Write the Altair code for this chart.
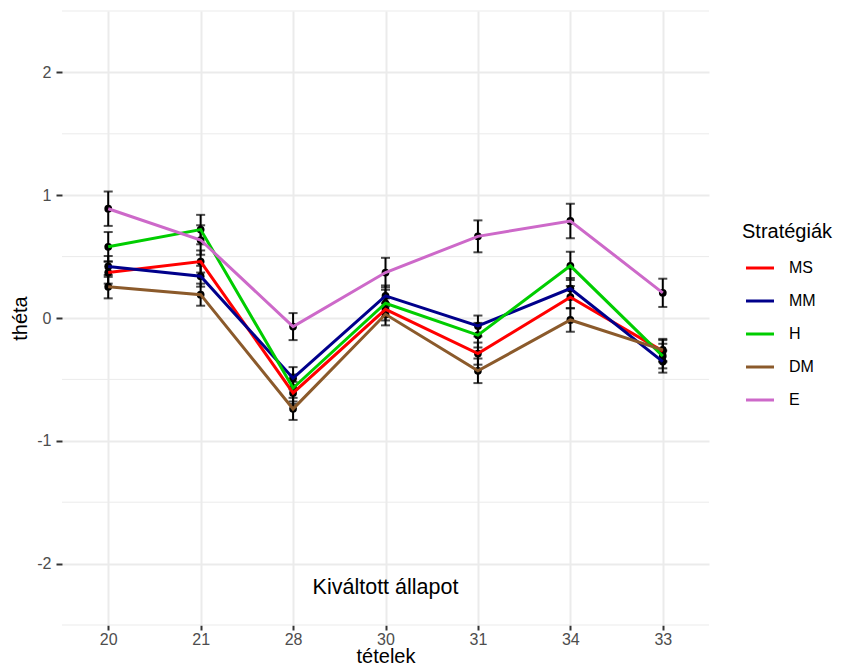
import altair as alt
import pandas as pd

items = ["20", "21", "28", "30", "31", "34", "33"]
strategies = ["MS", "MM", "H", "DM", "E"]
colors = ["#FF0000", "#00008B", "#00CD00", "#8B5A2B", "#CD69C9"]

theta_MS = [0.37, 0.46, -0.61, 0.07, -0.29, 0.17, -0.27]
theta_MM = [0.42, 0.34, -0.49, 0.18, -0.065, 0.24, -0.355]
theta_H = [0.58, 0.72, -0.57, 0.12, -0.14, 0.425, -0.31]
theta_DM = [0.255, 0.19, -0.74, 0.03, -0.43, -0.016, -0.26]
theta_E = [0.89, 0.635, -0.07, 0.37, 0.665, 0.79, 0.205]

se_MS = [0.09, 0.09, 0.09, 0.09, 0.09, 0.09, 0.09]
se_MM = [0.085, 0.085, 0.09, 0.085, 0.085, 0.085, 0.09]
se_H = [0.12, 0.12, 0.11, 0.11, 0.10, 0.115, 0.10]
se_DM = [0.095, 0.09, 0.09, 0.09, 0.10, 0.095, 0.09]
se_E = [0.14, 0.12, 0.11, 0.12, 0.13, 0.14, 0.115]

minor_grid = [-2.5, -1.5, -0.5, 0.5, 1.5, 2.5]
y_ticks = [-2, -1, 0, 1, 2]
annot_item = ["30"]
annot_y = [-2.2]
annot_text = ["Kiváltott állapot"]

rows = []
for s, vals, ses in zip(strategies,
                        [theta_MS, theta_MM, theta_H, theta_DM, theta_E],
                        [se_MS, se_MM, se_H, se_DM, se_E]):
    for it, v, e in zip(items, vals, ses):
        rows.append({"item": it, "strat": s, "theta": v, "lo": v - e, "hi": v + e,
                     "order": strategies.index(s)})
df = pd.DataFrame(rows)

FONT = "Liberation Sans"

x_enc = alt.X("item:N", sort=items,
              scale=alt.Scale(type="point", padding=0.5, domain=items),
              axis=alt.Axis(title="tételek", titleX=323.5, titleY=37,
                            titleBaseline="alphabetic", titleAlign="center",
                            titleFontSize=20,
                            labelAngle=0, tickSize=5, labelPadding=1))
y_scale = alt.Scale(domain=[-2.5, 2.5], nice=False, zero=False)
y_axis = alt.Axis(title="théta", values=y_ticks, titleX=-42, titleY=307,
                  titleAngle=-90, titleBaseline="middle", titleAlign="center",
                  titleFontSize=20,
                  labelExpr="datum.value", tickSize=6, labelPadding=5)

grid_df = pd.DataFrame({"g": minor_grid})
minor = alt.Chart(grid_df).mark_rule(color="#EBEBEB", strokeWidth=1).encode(
    y=alt.Y("g:Q", scale=y_scale, axis=y_axis)
)

base = alt.Chart(df)
err = base.mark_rule(color="black", strokeWidth=2).encode(
    x=x_enc, y=alt.Y("lo:Q", scale=y_scale, axis=y_axis), y2="hi:Q"
)
cap_lo = base.mark_tick(color="black", thickness=2, size=9).encode(
    x=x_enc, y=alt.Y("lo:Q", scale=y_scale, axis=y_axis)
)
cap_hi = base.mark_tick(color="black", thickness=2, size=9).encode(
    x=x_enc, y=alt.Y("hi:Q", scale=y_scale, axis=y_axis)
)
pts = base.mark_circle(color="black", size=60, opacity=1).encode(
    x=x_enc, y=alt.Y("theta:Q", scale=y_scale, axis=y_axis)
)
lines = base.mark_line(strokeWidth=3).encode(
    x=x_enc,
    y=alt.Y("theta:Q", scale=y_scale, axis=y_axis),
    color=alt.Color("strat:N", sort=strategies,
                    scale=alt.Scale(domain=strategies, range=colors),
                    legend=alt.Legend(title="Stratégiák")),
    order="order:Q",
)

annot_df = pd.DataFrame({"item": annot_item, "y": annot_y, "t": annot_text})
annot = alt.Chart(annot_df).mark_text(font=FONT, fontSize=21.5, color="black",
                                      baseline="middle", align="center").encode(
    x=x_enc, y=alt.Y("y:Q", scale=y_scale, axis=y_axis), text="t:N"
)

chart = alt.layer(minor, err, cap_lo, cap_hi, pts, lines, annot).properties(
    width=647, height=614,
    autosize=alt.AutoSizeParams(type="none"),
    padding={"left": 54, "top": 3, "right": 126, "bottom": 38},
    background="white",
).configure_view(stroke=None).configure_axis(
    labelFont=FONT, labelFontSize=16, labelColor="#4D4D4D",
    tickColor="#333333", tickWidth=2,
    domain=False, grid=True, gridColor="#EBEBEB", gridWidth=2,
    titleFont=FONT, titleFontSize=21, titleColor="black", titleFontWeight="normal",
).configure_legend(
    orient="none", legendX=680, legendY=211,
    titleFont=FONT, titleFontSize=20, titleColor="black", titleFontWeight="normal",
    titleBaseline="top",
    labelFont=FONT, labelFontSize=16, labelColor="black",
    symbolType="M-0.85,0H0.85", symbolStrokeWidth=3, symbolSize=1089,
    rowPadding=7, titlePadding=8, labelOffset=11, padding=0,
)

chart.save("out.html", embed_options={"renderer": "svg", "actions": False})
